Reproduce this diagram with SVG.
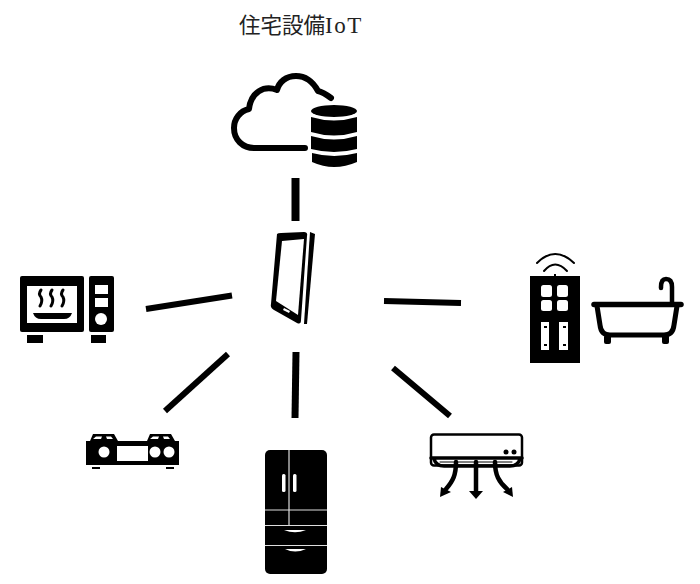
<svg xmlns="http://www.w3.org/2000/svg" width="700" height="584" viewBox="0 0 700 584">
<defs>
<style>
.k{fill:#000}
.w{fill:#fff}
.o{fill:none;stroke:#000;stroke-linecap:round;stroke-linejoin:round}
.link{stroke:#000;fill:none}
text{font-family:"Liberation Serif","Noto Sans CJK JP",serif;font-size:21.5px;fill:#222}
</style>
</defs>
<rect width="700" height="584" fill="#fff"/>
<text x="239" y="33">住宅設備<tspan font-size="23" letter-spacing="1.500">IoT</tspan></text>

<g id="connectors">
<line class="link" x1="295.500" y1="178" x2="295.500" y2="221" stroke-width="8"/>
<line class="link" x1="146" y1="309" x2="232" y2="295.500" stroke-width="6"/>
<line class="link" x1="384" y1="301" x2="461" y2="303" stroke-width="6"/>
<line class="link" x1="228" y1="354" x2="165" y2="411" stroke-width="6"/>
<line class="link" x1="296" y1="352" x2="295" y2="418" stroke-width="7"/>
<line class="link" x1="393" y1="368" x2="450" y2="416" stroke-width="6"/>
</g>

<g id="cloud-storage">
<path class="o" stroke-width="6" stroke-linecap="butt" d="M331 98 C327 95 323 92 318 91 C312 80 304 76 296 76 C286 76 279 82 277 90 C264 85 251 92 249 109 C240 111 234 119 234 128 C234 140 243 148 254 148 L305 148"/>
<g>
<ellipse class="k" cx="334" cy="111" rx="23" ry="6"/>
<path class="k" d="M311 117 Q334 124 357 117 L357 132 Q334 139 311 132 Z"/>
<path class="k" d="M311 136 Q334 143 357 136 L357 149 Q334 155 311 149 Z"/>
<path class="k" d="M312 153 Q334 159 357 153 L357 162 Q334 172 312 162 Z"/>
</g>
</g>

<g id="tablet">
<path class="k" d="M277 234 Q278 233 281 233 L304 232 Q308 232 307 236 L301 320 Q301 325 297 323 L274 310 Q270 308 271 304 Z"/>
<path class="w" d="M282 241 L304 239 L298 315 L276 301 Z"/>
<path class="w" d="M284 308 L290 311 L289 313 L283 310 Z"/>
<path class="k" d="M310 232 L315 234 L307 324 L304 324 Z"/>
</g>

<g id="microwave">
<rect class="k" x="20" y="276" width="64" height="56" rx="2"/>
<rect class="w" x="27" y="286" width="50" height="37"/>
<rect class="k" x="89" y="276" width="25" height="56" rx="2"/>
<rect class="w" x="95" y="285" width="13" height="9"/>
<rect class="w" x="95" y="298" width="13" height="9"/>
<circle class="w" cx="101" cy="319" r="6"/>
<rect class="k" x="27" y="335" width="16" height="8"/>
<rect class="k" x="91" y="335" width="15" height="8"/>
<path class="k" d="M33 313 L72 313 Q70 319 64 319 L41 319 Q35 319 33 313 Z"/>
<path class="o" stroke-width="3" d="M41 290 Q38 294 41 297 Q43 301 40 306 M52 290 Q49 294 52 297 Q54 301 51 306 M63 290 Q60 294 63 297 Q65 301 62 306"/>
</g>

<g id="bath-remote">
<path class="o" stroke-width="2" d="M537 263 Q555 245 574 263"/>
<path class="o" stroke-width="2" d="M544 271 Q555 258 567 271"/>
<rect class="k" x="530" y="276" width="50" height="87"/>
<rect class="k" x="554" y="274" width="2" height="3"/>
<g class="w">
<rect x="541" y="285" width="11" height="12" rx="2.500"/>
<rect x="557" y="285" width="11" height="12" rx="2.500"/>
<rect x="541" y="300" width="11" height="11" rx="2.500"/>
<rect x="557" y="300" width="11" height="11" rx="2.500"/>
<rect x="541" y="322" width="8" height="28"/>
<rect x="559" y="322" width="9" height="28"/>
</g>
<rect class="k" x="544" y="326" width="3" height="2"/>
<rect class="k" x="563" y="326" width="3" height="2"/>
<rect class="k" x="544" y="344" width="3" height="2"/>
<rect class="k" x="563" y="344" width="3" height="2"/>
</g>

<g id="bathtub">
<path class="o" stroke-width="5.500" d="M594 304.500 L681 304.500"/>
<path class="o" stroke-width="5" d="M597 306 L600 325 Q601 335 610 335 L664 335 Q673 335 674 325 L677 306"/>
<path class="o" stroke-width="4.500" stroke-linecap="butt" d="M672 303 L672 287 Q672 279 666 279 Q661 279 661 287 L661 288"/>
<rect class="k" x="604" y="335" width="7" height="9" rx="2"/>
<rect class="k" x="662" y="335" width="7" height="9" rx="2"/>
</g>

<g id="gas-stove">
<path class="k" d="M86 441 L90 441 L93 434 L114 434 L118 441 L147 441 L150 434 L171 434 L175 441 L179 441 L179 465 L86 465 Z"/>
<path class="w" d="M93 439 L96 436.500 L102 436.500 L101 439 Z M106 436.500 L111 436.500 L113 439 L107 439 Z M150 439 L153 436.500 L159 436.500 L158 439 Z M163 436.500 L168 436.500 L170 439 L164 439 Z"/>
<rect class="w" x="117" y="446" width="31" height="15"/>
<circle class="w" cx="104" cy="452" r="5.500"/>
<circle class="w" cx="155" cy="452" r="5.500"/>
<circle class="w" cx="169" cy="452" r="5.500"/>
<rect class="k" x="92" y="467" width="8" height="2"/>
<rect class="k" x="166" y="467" width="8" height="2"/>
</g>

<g id="fridge">
<rect class="k" x="265" y="450" width="62" height="124" rx="5"/>
<g fill="none" stroke="#ddd" stroke-width="1.200">
<path d="M289 450 L289 525"/>
<path d="M265 510 L327 510"/>
<path d="M265 525.500 L327 525.500"/>
<path d="M265 545.500 L327 545.500"/>
</g>
<rect class="w" x="282" y="474" width="3.500" height="18" rx="1.500"/>
<rect class="w" x="293" y="474" width="3.500" height="18" rx="1.500"/>
<path class="w" d="M284 530 L306 530 Q295 534.500 284 530 Z"/>
<path class="w" d="M285 549 L306 549 Q295 554 285 549 Z"/>
</g>

<g id="air-conditioner">
<rect x="431" y="434.500" width="91" height="31" rx="3" fill="#fff" stroke="#000" stroke-width="2.500"/>
<path class="o" stroke-width="3.500" d="M431 458 L522 458 M434 459 Q436 466 444 466 L510 466 Q518 466 520 459"/>
<path class="o" stroke-width="1" d="M440 462 L512 462"/>
<circle class="k" cx="506" cy="452" r="2.500"/>
<circle class="k" cx="514" cy="452" r="2.500"/>
<path class="o" stroke-width="4.500" stroke-linecap="butt" d="M456 462 C456 475 453 481 446 489"/>
<path class="k" d="M440 497 L441 487 L451 492 Z"/>
<line class="o" stroke-width="4.500" stroke-linecap="butt" x1="476" y1="462" x2="476" y2="493"/>
<path class="k" d="M469 491 L483 491 L476 499 Z"/>
<path class="o" stroke-width="4.500" stroke-linecap="butt" d="M495 462 C495 475 499 482 507 489"/>
<path class="k" d="M513 497 L512 487 L503 492 Z"/>
</g>
</svg>
